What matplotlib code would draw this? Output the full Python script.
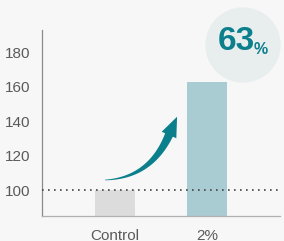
import numpy as np
import matplotlib.pyplot as plt
from matplotlib.patches import Circle, Polygon

plt.rcParams['font.family'] = ['Liberation Sans', 'DejaVu Sans']

# data
categories = ["Control", "2%"]
values = [100, 163]
y_ticks = [100, 120, 140, 160, 180]
baseline = 100
increase_label = "63"

bg = "#f8f7f8"
teal = "#0b7f8c"
bar_colors = ["#dcdcdc", "#a9cbd2"]
W, H = 284, 241

fig = plt.figure(figsize=(W / 100, H / 100), dpi=100, facecolor=bg)
ax = fig.add_axes([41.5 / W, 25 / H, (280 - 41.5) / W, 186 / H])
ax.set_facecolor(bg)

ymin, ymax = 85, 193
x = np.arange(len(categories))
ax.bar(x, [v - ymin for v in values], bottom=ymin, width=0.435,
       color=bar_colors, zorder=2)
ax.axhline(baseline, color="#444444", lw=1.2, ls=(0, (1, 2.6)), zorder=3)

ax.set_xlim(-0.80, 1.79)
ax.set_ylim(ymin, ymax)
ax.set_yticks(y_ticks)
ax.set_xticks(x)
ax.set_xticklabels(categories)
ax.tick_params(axis="both", length=0, labelsize=11, labelcolor="#5a5a5a")
ax.tick_params(axis="y", pad=8)
ax.tick_params(axis="x", pad=9)
for s in ["top", "right"]:
    ax.spines[s].set_visible(False)
ax.spines["left"].set_color("#8a8a8a")
ax.spines["bottom"].set_color("#b0b0b0")
ax.spines["left"].set_linewidth(0.9)
ax.spines["bottom"].set_linewidth(0.9)

# overlay in pixel coordinates for the annotation
ov = fig.add_axes([0, 0, 1, 1], facecolor="none")
ov.set_xlim(0, W)
ov.set_ylim(0, H)
ov.axis("off")

ov.add_patch(Circle((243, H - 45), 37, color="#e8eeee", zorder=1))
ov.text(236, H - 42, increase_label, fontsize=24, fontweight="bold",
        color=teal, ha="center", va="center", zorder=2)
ov.text(254, H - 49, "%", fontsize=11.5, fontweight="bold",
        color=teal, ha="left", va="center", zorder=2)

# tapered curved arrow from the control bar towards the 2% bar
p0 = np.array([105, H - 180.0])
p1 = np.array([150, H - 178.0])
p2 = np.array([169, H - 135.0])
t = np.linspace(0, 1, 60)[:, None]
pts = (1 - t) ** 2 * p0 + 2 * (1 - t) * t * p1 + t ** 2 * p2
d = 2 * (1 - t) * (p1 - p0) + 2 * t * (p2 - p1)
d = d / np.linalg.norm(d, axis=1, keepdims=True)
nrm = np.column_stack([-d[:, 1], d[:, 0]])
hw = 0.3 + 3.9 * t[:, 0] ** 1.1
upper = pts + nrm * hw[:, None]
lower = pts - nrm * hw[:, None]
tdir = d[-1]
tn = np.array([-tdir[1], tdir[0]])
tip = p2 + tdir * 20
head = [p2 + tn * 8, tip, p2 - tn * 8]
poly = np.vstack([upper, head, lower[::-1]])
ov.add_patch(Polygon(poly, closed=True, color=teal, lw=0, zorder=4))

fig.savefig("out.png", dpi=100, facecolor=bg)
